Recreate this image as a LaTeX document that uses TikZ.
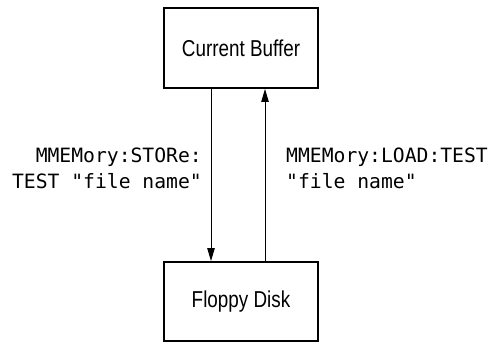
\documentclass[tikz,border=0pt]{standalone}
\usepackage{fontspec}
\usetikzlibrary{arrows.meta}
\newfontfamily\boxfont[FakeStretch=0.82]{Liberation Sans}
\newfontfamily\cmdfont{DejaVu Sans Mono}
\tikzset{
  storebox/.style={draw, line width=2pt, minimum width=154pt, minimum height=80pt,
    inner sep=0pt, font=\boxfont\fontsize{23}{27}\selectfont},
  cmdlabel/.style={inner sep=0pt, font=\cmdfont\fontsize{19.7}{26}\selectfont},
  flow/.style={line width=0.9pt, -{Triangle[length=13pt,width=7.5pt]}}
}
\begin{document}
\begin{tikzpicture}[x=1pt,y=1pt]
  \useasboundingbox (0,0) rectangle (489,343);
  \node[storebox] (buf) at (241,295) {Current Buffer};
  \node[storebox, minimum height=79pt] (disk) at (241,41.5) {Floppy Disk};
  % store: buffer down to disk, load: disk up to buffer
  \draw[flow] ([xshift=-30pt]buf.south) -- ([xshift=-30pt]disk.north);
  \draw[flow] ([xshift=24pt]disk.north) -- ([xshift=24pt]buf.south);
  % base anchor sits on the last line of each label
  \node[cmdlabel, align=right, anchor=base east] (store) at (202,155)
    {MMEMory:STORe:\\TEST "file name"};
  \node[cmdlabel, align=left, anchor=base west] (load) at (286,155)
    {MMEMory:LOAD:TEST\\"file name"};
\end{tikzpicture}
\end{document}
